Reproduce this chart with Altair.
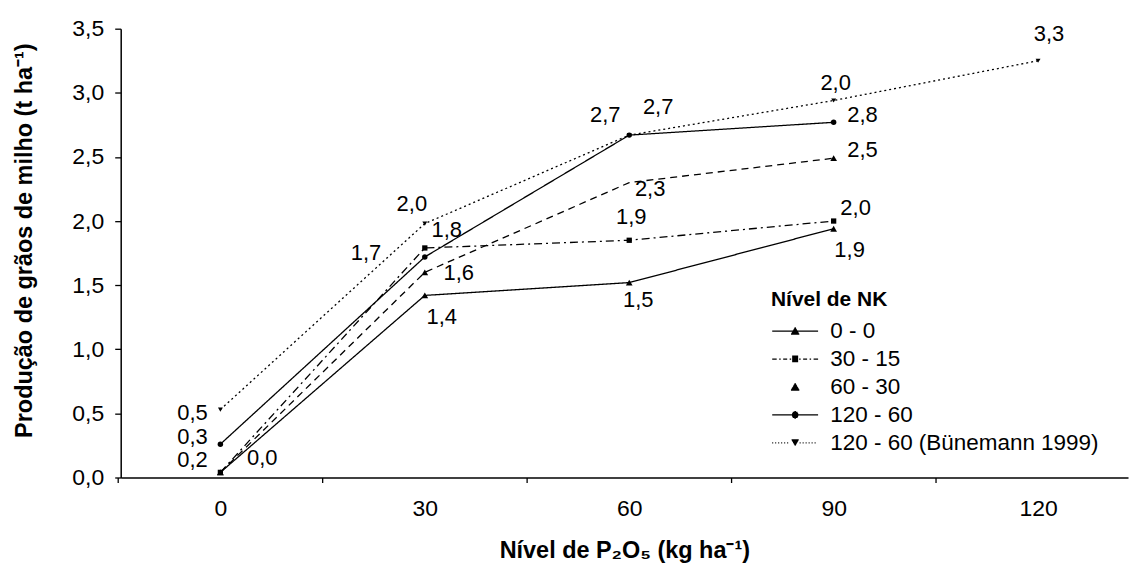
import math
import altair as alt
import pandas as pd

# ---------------- data ----------------
x_levels = [0, 30, 60, 90, 120]
series_names = ["0 - 0", "30 - 15", "60 - 30", "120 - 60", "120 - 60 (Bünemann 1999)"]
yield_0_0 = [0.04, 1.42, 1.52, 1.94]
yield_30_15 = [0.04, 1.79, 1.85, 2.00]
yield_60_30 = [0.04, 1.60, 2.30, 2.49]
yield_120_60 = [0.26, 1.72, 2.67, 2.77]
yield_bunemann = [0.53, 1.98, 2.67, 2.94, 3.25]
marker_shown_60_30 = [True, True, False, True]

# value labels written on the chart (series index, P2O5 level, text)
label_series = [4, 3, 1, 0, 4, 1, 3, 2, 0, 3, 4, 2, 1, 0, 4, 3, 2, 1, 0, 4]
label_level = [0, 0, 0, 0, 30, 30, 30, 30, 30, 60, 60, 60, 60, 60, 90, 90, 90, 90, 90, 120]
label_text = ["0,5", "0,3", "0,2", "0,0", "2,0", "1,8", "1,7", "1,6", "1,4", "2,7",
              "2,7", "2,3", "1,9", "1,5", "2,0", "2,8", "2,5", "2,0", "1,9", "3,3"]

y_ticks = [0.0, 0.5, 1.0, 1.5, 2.0, 2.5, 3.0, 3.5]

# ---------------- styles / layout ----------------
FONT = "Liberation Sans"
W, H = 1010, 450
XMIN, XMAX = -14.63, 133.2
YMAX = 3.5
PX_X = W / (XMAX - XMIN)
PX_Y = H / YMAX
TICK_SHIFT = 15 * PX_X

label_dx = [-28, -28, -28, 42, -13, 22, -59, 34, 17, -24, 29, 21, 2, 9, 2, 29, 29, 22, 16, 11]
label_dy = [3, -7, -12, -14, -20, -18, -4, 1, 22, -20, -28, 6, -23, 17, -18, -7, -8, -13, 21, -27]

dash_styles = [[1, 0], [8, 4, 2, 4], [7, 5], [1, 0], [2, 3]]
point_shapes = ["triangle-up", "square", "triangle-up", "circle", "triangle-down"]
point_sizes = [45, 28, 45, 30, 24]

# legend symbols (unit = 10 px): line from -1 to 3.6, marker centred at 1.3
CX = 1.3


def seg(a, b):
    return f"M{a:.2f},0H{b:.2f}"


def dotted(a, b, step=0.3, ln=0.1):
    out, p = [], a
    while p + ln <= b + 1e-9:
        out.append(seg(p, p + ln))
        p += step
    return "".join(out)


def hatch(half_width, y0, y1, step=0.08):
    out, y = [], y0
    while y <= y1 + 1e-9:
        hw = half_width(y)
        if hw > 0.01:
            out.append(f"M{CX - hw:.2f},{y:.2f}H{CX + hw:.2f}")
        y += step
    return "".join(out)


tri_up = hatch(lambda y: 0.42 * (y + 0.42) / 0.72, -0.42, 0.3)
square = hatch(lambda y: 0.3, -0.3, 0.3)
circle = hatch(lambda y: math.sqrt(max(0.0, 0.33 ** 2 - y * y)), -0.32, 0.32)
tri_down = hatch(lambda y: 0.36 * (0.32 - y) / 0.62, -0.3, 0.32)

legend_paths = [
    seg(-1, 3.6) + tri_up,
    seg(-1, -0.55) + seg(-0.3, -0.15) + seg(0.1, 0.5) + seg(0.75, 0.9) + square
    + seg(1.7, 1.85) + seg(2.1, 2.5) + seg(2.75, 2.9) + seg(3.15, 3.6),
    tri_up,
    seg(-1, 3.6) + circle,
    dotted(-1.0, 0.85) + tri_down + dotted(1.75, 3.6),
]

# ---------------- tables ----------------
all_values = [yield_0_0, yield_30_15, yield_60_30, yield_120_60, yield_bunemann]
line_rows, point_rows = [], []
for si, vals in enumerate(all_values):
    for i, v in enumerate(vals):
        line_rows.append({"series": series_names[si], "x": x_levels[i], "y": v, "order": i})
        show = True
        if si == 2:
            show = marker_shown_60_30[i]
        if show:
            point_rows.append({"series": series_names[si], "x": x_levels[i], "y": v})
lines_df = pd.DataFrame(line_rows)
points_df = pd.DataFrame(point_rows)

label_rows = []
for k, txt in enumerate(label_text):
    si = label_series[k]
    lvl = label_level[k]
    v = all_values[si][x_levels.index(lvl)]
    label_rows.append({"x": lvl + label_dx[k] / PX_X, "y": v - label_dy[k] / PX_Y, "text": txt})
labels_df = pd.DataFrame(label_rows)

# ---------------- encodings ----------------
x_axis = alt.Axis(
    values=x_levels, title="Nível de P₂O₅ (kg ha⁻¹)", grid=False,
    tickOffset=-TICK_SHIFT, labelOffset=TICK_SHIFT, tickSize=5, tickColor="black",
    tickWidth=1.3, domainColor="black", domainWidth=1.5, labelFont=FONT,
    labelFontSize=23, labelColor="black", labelPadding=15, titleFont=FONT,
    titleFontSize=23.5, titleFontWeight="bold", titleColor="black",
    titleBaseline="alphabetic", titleY=80, labelFlush=False,
)
y_axis = alt.Axis(
    values=y_ticks, title="Produção de grãos de milho (t ha⁻¹)", grid=False,
    labelExpr="replace(format(datum.value, '.1f'), '.', ',')", tickSize=6,
    tickColor="black", tickWidth=1.3, domainColor="black", domainWidth=1.5,
    labelFont=FONT, labelFontSize=23, labelColor="black", labelPadding=11,
    titleFont=FONT, titleFontSize=23.5, titleFontWeight="bold", titleColor="black",
    titleAngle=270, titleAlign="center", titleBaseline="alphabetic",
    titleX=-89, titleY=212,
)
x_enc = alt.X("x:Q", scale=alt.Scale(domain=[XMIN, XMAX], nice=False, zero=False), axis=x_axis)
y_enc = alt.Y("y:Q", scale=alt.Scale(domain=[0, YMAX], nice=False, zero=True), axis=y_axis)

layers = []
for si, name in enumerate(series_names):
    layers.append(
        alt.Chart(lines_df).transform_filter(alt.datum.series == name).mark_line(
            color="black", strokeWidth=1.3, strokeDash=dash_styles[si]
        ).encode(x=x_enc, y=y_enc, order="order:Q")
    )
for si, name in enumerate(series_names):
    layers.append(
        alt.Chart(points_df).transform_filter(alt.datum.series == name).mark_point(
            filled=True, color="black", opacity=1, shape=point_shapes[si], size=point_sizes[si]
        ).encode(x=x_enc, y=y_enc)
    )

labels = alt.Chart(labels_df).mark_text(
    font=FONT, fontSize=22, color="black", align="center", baseline="middle"
).encode(x=x_enc, y=y_enc, text="text:N")
layers.append(labels)

legend_layer = alt.Chart(lines_df).mark_point(
    filled=False, color="black", strokeWidth=1.3, opacity=0
).encode(
    x=x_enc, y=y_enc,
    shape=alt.Shape(
        "series:N",
        scale=alt.Scale(domain=series_names, range=legend_paths),
        legend=alt.Legend(
            title="Nível de NK", orient="none", legendX=652, legendY=261, padding=0,
            titleFont=FONT, titleFontSize=21, titleFontWeight="bold", titleColor="black",
            titlePadding=10, labelFont=FONT, labelFontSize=22.5, labelColor="black",
            labelOffset=37, labelLimit=500, rowPadding=5, symbolSize=400,
            symbolStrokeWidth=1.3, symbolStrokeColor="black", symbolOpacity=1,
        ),
    ),
)
layers.append(legend_layer)

chart = (
    alt.layer(*layers)
    .properties(
        width=W, height=H,
        autosize=alt.AutoSizeParams(type="none"),
        padding={"left": 113, "top": 20, "right": 5, "bottom": 90},
        background="white",
    )
    .configure_view(strokeWidth=0)
)

chart.save("out.html", embed_options={"renderer": "svg", "actions": False})
